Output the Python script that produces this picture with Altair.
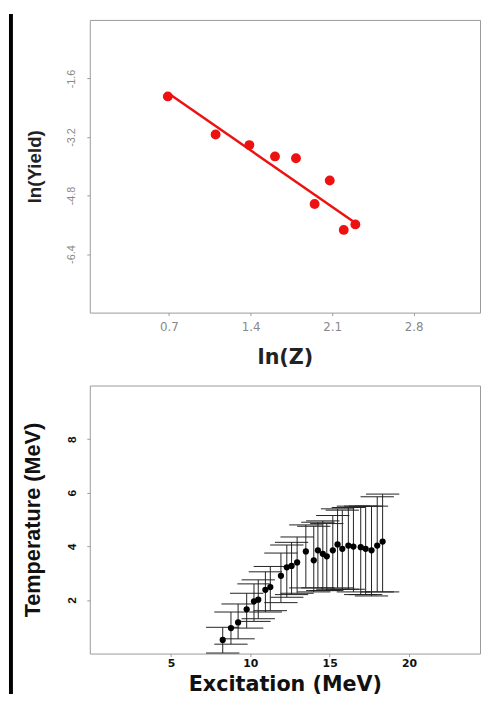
import altair as alt
import pandas as pd

# ---------------- top panel: ln(Yield) vs ln(Z) ----------------
ln_z = [0.69, 1.10, 1.39, 1.61, 1.79, 1.95, 2.08, 2.20, 2.30]
ln_yield = [-2.09, -3.13, -3.42, -3.73, -3.78, -5.03, -4.39, -5.74, -5.59]
fit_x = [0.70, 2.31]
fit_y = [-2.02, -5.57]
top_x_ticks = [0.7, 1.4, 2.1, 2.8]
top_y_ticks = [-1.6, -3.2, -4.8, -6.4]

# ---------------- bottom panel: Temperature vs Excitation ----------------
excitation = [8.26, 8.78, 9.23, 9.77, 10.23, 10.50, 10.95, 11.26, 11.93, 12.30,
              12.60, 12.95, 13.50, 14.00, 14.26, 14.57, 14.82, 15.20, 15.50, 15.80,
              16.18, 16.50, 16.96, 17.27, 17.64, 18.00, 18.34]
temperature = [0.51, 0.95, 1.16, 1.65, 1.95, 2.01, 2.38, 2.48, 2.90, 3.22,
               3.27, 3.40, 3.81, 3.48, 3.85, 3.72, 3.63, 3.85, 4.07, 3.91,
               4.03, 3.99, 3.97, 3.91, 3.85, 4.03, 4.18]
temp_lo = [0.02, 0.35, 0.55, 0.95, 1.20, 1.30, 1.55, 1.60, 1.90, 2.10,
           2.20, 2.25, 2.45, 2.30, 2.45, 2.35, 2.35, 2.40, 2.45, 2.40,
           2.40, 2.30, 2.20, 2.20, 2.15, 2.30, 2.30]
temp_hi = [0.98, 1.55, 1.85, 2.25, 2.60, 2.75, 3.05, 3.25, 3.75, 4.05,
           4.15, 4.35, 4.80, 4.75, 4.90, 4.95, 4.85, 5.15, 5.40, 5.35,
           5.45, 5.50, 5.50, 5.50, 5.50, 5.85, 5.95]
EXC_ERR = 1.05
bot_x_ticks = [5, 10, 15, 20]
bot_y_ticks = [2, 4, 6, 8]

W = 396
H_TOP = 297
H_BOT = 272

RED = "#ee1111"

# ---------------- top chart ----------------
top_x_scale = alt.Scale(domain=[0.02, 3.37], nice=False, zero=False)
top_y_scale = alt.Scale(domain=[-8, 0], nice=False, zero=False)

neg_fmt = "datum.value < 0 ? '-' + format(-datum.value, '.1f') : format(datum.value, '.1f')"

top_x_axis = alt.Axis(values=top_x_ticks, labelExpr=neg_fmt, title="ln(Z)", grid=False,
                      domain=False, tickSize=3, tickColor="#999", labelPadding=6,
                      labelFont="DejaVu Sans", labelFontSize=12, labelColor="#888",
                      titleFont="DejaVu Sans", titleFontSize=21, titleFontWeight="bold",
                      titleColor="#222", titlePadding=15)
top_y_axis = alt.Axis(values=top_y_ticks, labelExpr=neg_fmt, title="ln(Yield)", grid=False,
                      domain=False, tickSize=3, tickColor="#999", labelPadding=11,
                      labelAngle=270, labelAlign="center", labelBaseline="bottom",
                      labelFont="Liberation Sans", labelFontSize=11, labelColor="#888",
                      titleFont="Liberation Sans", titleFontSize=19, titleFontWeight="bold",
                      titleColor="#222", titlePadding=21)

top_df = pd.DataFrame({"lnz": ln_z, "lny": ln_yield})
fit_df = pd.DataFrame({"lnz": fit_x, "lny": fit_y})

X_top = lambda f: alt.X(f, scale=top_x_scale, axis=top_x_axis, title="ln(Z)")
Y_top = lambda f: alt.Y(f, scale=top_y_scale, axis=top_y_axis, title="ln(Yield)")

strip = alt.Chart(pd.DataFrame({"k": [0]})).mark_rect(color="black").encode(
    x=alt.value(-82), x2=alt.value(-78), y=alt.value(-6), y2=alt.value(684)
)
fit_line = alt.Chart(fit_df).mark_line(color=RED, strokeWidth=2.5).encode(
    x=X_top("lnz:Q"), y=Y_top("lny:Q")
)
top_pts = alt.Chart(top_df).mark_circle(color=RED, size=100, opacity=1).encode(
    x=X_top("lnz:Q"), y=Y_top("lny:Q")
)
top = alt.layer(strip, fit_line, top_pts).properties(width=W, height=H_TOP)

# ---------------- bottom chart ----------------
bot_x_scale = alt.Scale(domain=[-0.12, 24.48], nice=False, zero=False)
bot_y_scale = alt.Scale(domain=[0, 10], nice=False, zero=False)

bot_x_axis = alt.Axis(values=bot_x_ticks, title="Excitation (MeV)", grid=False, domain=False,
                      tickSize=3, tickColor="#999", labelPadding=1,
                      labelFont="DejaVu Sans", labelFontSize=11, labelFontWeight="bold",
                      labelColor="#111", titleFont="DejaVu Sans", titleFontSize=21,
                      titleFontWeight="bold", titleColor="#111", titlePadding=5)
bot_y_axis = alt.Axis(values=bot_y_ticks, title="Temperature (MeV)", grid=False, domain=False,
                      tickSize=3, tickColor="#999", labelPadding=8,
                      labelAngle=270, labelAlign="center", labelBaseline="bottom",
                      labelFont="Liberation Sans", labelFontSize=12, labelFontWeight="bold",
                      labelColor="#111", titleFont="Liberation Sans", titleFontSize=22,
                      titleFontWeight="bold", titleColor="#111", titlePadding=22)

bot_df = pd.DataFrame({"E": excitation, "T": temperature, "lo": temp_lo, "hi": temp_hi})
base = alt.Chart(bot_df).transform_calculate(
    e1=f"datum.E - {EXC_ERR}", e2=f"datum.E + {EXC_ERR}"
)
X_bot = lambda f: alt.X(f, scale=bot_x_scale, axis=bot_x_axis, title="Excitation (MeV)")
Y_bot = lambda f: alt.Y(f, scale=bot_y_scale, axis=bot_y_axis, title="Temperature (MeV)")

vbars = base.mark_rule(color="#222", strokeWidth=1).encode(
    x=X_bot("E:Q"), y=Y_bot("lo:Q"), y2="hi:Q"
)
cap_hi = base.mark_rule(color="#222", strokeWidth=1).encode(
    x=X_bot("e1:Q"), x2="e2:Q", y=Y_bot("hi:Q")
)
cap_lo = base.mark_rule(color="#222", strokeWidth=1).encode(
    x=X_bot("e1:Q"), x2="e2:Q", y=Y_bot("lo:Q")
)
dots = base.mark_circle(color="black", size=40, opacity=1).encode(
    x=X_bot("E:Q"), y=Y_bot("T:Q")
)
bottom = alt.layer(vbars, cap_hi, cap_lo, dots).properties(width=W, height=H_BOT)

chart = alt.vconcat(top, bottom, spacing=74, bounds="flush").properties(
    padding=0, background="white"
).configure_view(stroke="#999", strokeWidth=1)

chart.save("out.html", embed_options={"renderer": "svg", "actions": False})
